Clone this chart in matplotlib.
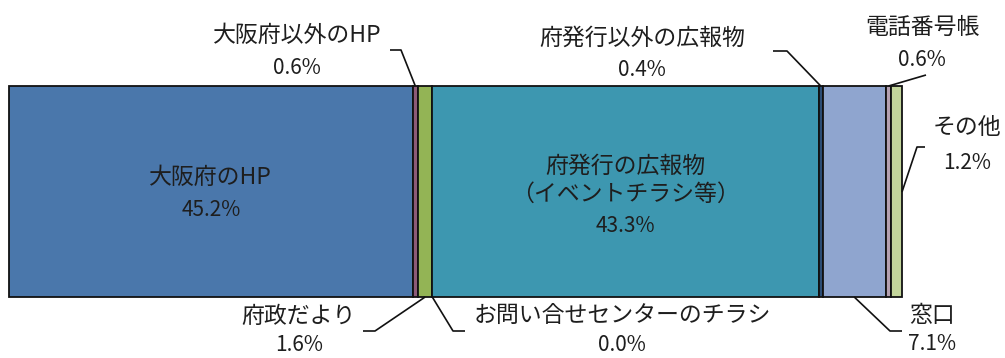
import matplotlib.pyplot as plt
import numpy as np

plt.rcParams['font.family'] = ['Noto Sans CJK JP', 'DejaVu Sans']

# data
categories = ['大阪府のHP', '大阪府以外のHP', '府政だより', 'お問い合せセンターのチラシ',
              '府発行の広報物\n（イベントチラシ等）', '府発行以外の広報物', '窓口', '電話番号帳', 'その他']
shares = [45.2, 0.6, 1.6, 0.0, 43.3, 0.4, 7.1, 0.6, 1.2]
colors = ['#4A77AB', '#8C5A78', '#93B455', '#B0B0B0', '#3D97B0',
          '#2C4D75', '#8FA5CF', '#B4A0B0', '#C3D59B']

W, H = 1005, 358
fig = plt.figure(figsize=(W / 100, H / 100), dpi=100)
ax = fig.add_axes([0, 0, 1, 1])

# bar spans pixels 9..902 horizontally, 86..297 vertically
x0_px, x1_px = 9, 902
scale = (x1_px - x0_px) / 100.0
ax.set_xlim(-x0_px / scale, (W - x0_px) / scale)
ax.set_ylim(H, 0)
ax.axis('off')

def px(x):
    return (x - x0_px) / scale

bar_top, bar_bot = 86, 297
lefts = np.concatenate([[0], np.cumsum(shares)[:-1]])
ax.barh((bar_top + bar_bot) / 2, shares, left=lefts, height=bar_bot - bar_top,
        color=colors, edgecolor='#111111', linewidth=1.3)

fs = 16.5    # names
fs_v = 15    # percentages
txt_col = '#1e1e1e'

# inside labels
for i in [0, 4]:
    cx = lefts[i] + shares[i] / 2
    if i == 0:
        ax.text(cx, 177, categories[i], ha='center', va='center', fontsize=fs, color=txt_col)
        ax.text(cx, 210, f'{shares[i]:.1f}%', ha='center', va='center', fontsize=fs_v, color=txt_col)
    else:
        ax.text(cx, 180, categories[i], ha='center', va='center', fontsize=fs, color=txt_col,
                linespacing=1.3)
        ax.text(cx, 226, f'{shares[i]:.1f}%', ha='center', va='center', fontsize=fs_v, color=txt_col)

# outside labels: (index, text centre x px, name y px, value y px, leader path px)
outside = [
    (1, 297, 35, 68, [(390, 50), (401, 50)], 'top'),
    (5, 642, 38, 70, [(773, 51), (787, 51)], 'top'),
    (7, 922, 27, 60, [(926, 75)], 'top'),
    (8, 967, 128, 163, [(925, 147), (917, 147)], 'right'),
    (2, 299, 316, 345, [(363, 331), (375, 331)], 'bottom'),
    (3, 622, 316, 345, [(465, 331), (453, 331)], 'bottom'),
    (6, 932, 315, 344, [(902, 331), (890, 331)], 'bottom'),
]

for i, tx, ny, vy, path, side in outside:
    ax.text(px(tx), ny, categories[i], ha='center', va='center', fontsize=fs, color=txt_col)
    ax.text(px(tx), vy, f'{shares[i]:.1f}%', ha='center', va='center', fontsize=fs_v, color=txt_col)
    xs = [px(p[0]) for p in path]
    ys = [p[1] for p in path]
    if side == 'top':
        xs.append(lefts[i] + shares[i] / 2)
        ys.append(bar_top)
    elif side == 'bottom':
        xs.append(lefts[i] + shares[i] / 2)
        ys.append(bar_bot)
    else:
        xs.append(lefts[i] + shares[i])
        ys.append(192)
    ax.plot(xs, ys, color='#111111', linewidth=1.2, solid_capstyle='butt')

fig.savefig('out.png', dpi=100)
